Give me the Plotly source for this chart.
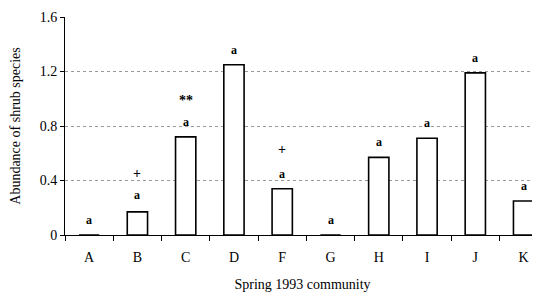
import plotly.graph_objects as go

categories = ["A", "B", "C", "D", "F", "G", "H", "I", "J", "K"]
abundance = [0, 0.17, 0.72, 1.25, 0.34, 0, 0.57, 0.71, 1.19, 0.25]
letters = ["a"] * 10
letter_y = [0.11, 0.29, 0.83, 1.36, 0.45, 0.11, 0.68, 0.82, 1.30, 0.36]
sig_marks = ["", "+", "**", "", "+", "", "", "", "", ""]
sig_y = [None, 0.45, 0.99, None, 0.63, None, None, None, None, None]
ytick_vals = [0, 0.4, 0.8, 1.2, 1.6]
ytick_text = ["0", "0.4", "0.8", "1.2", "1.6"]

FONT = "Liberation Serif"

fig = go.Figure()
fig.add_trace(go.Bar(
    x=categories, y=abundance, width=0.42,
    marker=dict(color="white", line=dict(color="black", width=1.6)),
    showlegend=False,
))

annotations = []
for c, t, yv in zip(categories, letters, letter_y):
    annotations.append(dict(x=c, y=yv, text="<b>" + t + "</b>", showarrow=False, xref="x", yref="y",
                            font=dict(family=FONT, size=12, color="black")))
for c, t, yv in zip(categories, sig_marks, sig_y):
    if t:
        annotations.append(dict(x=c, y=yv, text="<b>" + t + "</b>",
                                showarrow=False, xref="x", yref="y",
                                font=dict(family=FONT, size=14, color="black")))

fig.update_layout(
    width=540, height=296,
    margin=dict(l=57, r=8, t=9, b=69, autoexpand=False),
    paper_bgcolor="white", plot_bgcolor="white",
    font=dict(family=FONT, size=13, color="black"),
    annotations=annotations,
    xaxis=dict(
        type="category", range=[-0.5, 9.34], automargin=False,
        showline=True, linecolor="black", linewidth=1,
        ticks="outside", tickson="boundaries", ticklen=5, tickcolor="black",
        ticklabelstandoff=9,
        tickfont=dict(family=FONT, size=14, color="black"),
        title=dict(text="Spring 1993 community", font=dict(family=FONT, size=14)),
        showgrid=False,
    ),
    yaxis=dict(
        range=[0, 1.6], tickvals=ytick_vals, ticktext=ytick_text, automargin=False,
        showline=True, linecolor="black", linewidth=1,
        ticks="outside", ticklen=4, tickcolor="black",
        tickfont=dict(family=FONT, size=14, color="black"),
        title=dict(text="Abundance of shrub species", font=dict(family=FONT, size=14)),
        showgrid=True, gridcolor="#999999", griddash="dot", gridwidth=1,
        zeroline=False,
    ),
)

fig.write_html("out.html")
